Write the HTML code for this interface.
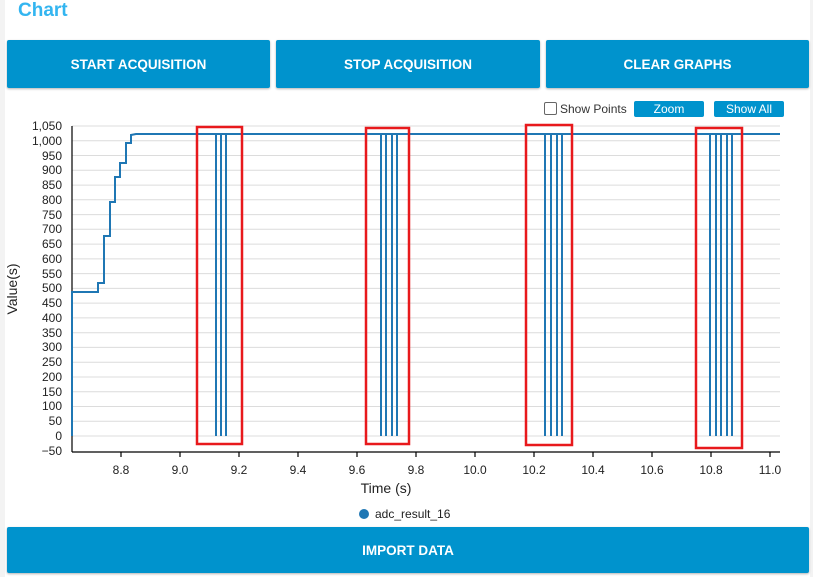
<!DOCTYPE html>
<html><head><meta charset="utf-8"><style>
body{margin:0;width:813px;height:577px;background:#fff;font-family:"Liberation Sans",sans-serif;position:relative;overflow:hidden}
.ls{position:absolute;left:0;top:0;width:5px;height:577px;background:#f3f3f3}
.rs{position:absolute;right:0;top:0;width:3px;height:577px;background:#f3f3f3}
.title{position:absolute;left:18px;top:0px;color:#33b5f0;font-size:19px;font-weight:bold;font-family:"Liberation Sans",sans-serif}
.btn{position:absolute;background:#0093cd;color:#fff;font-weight:bold;font-size:13.5px;display:flex;align-items:center;justify-content:center;border-radius:2px;box-shadow:0 1px 2px rgba(0,0,0,.3)}
.sb{position:absolute;background:#0093cd;color:#fff;font-size:12px;display:flex;align-items:center;justify-content:center;border-radius:2px;height:16px;top:101px}
</style></head><body>
<div class="ls"></div><div class="rs"></div>
<div class="title">Chart</div>
<div class="btn" style="left:7px;top:40px;width:263px;height:48px">START ACQUISITION</div>
<div class="btn" style="left:276px;top:40px;width:264px;height:48px">STOP ACQUISITION</div>
<div class="btn" style="left:546px;top:40px;width:263px;height:48px">CLEAR GRAPHS</div>
<div style="position:absolute;left:544px;top:102px;width:11px;height:11px;border:1px solid #666;border-radius:2px"></div>
<div style="position:absolute;left:560px;top:102px;font-size:12px;color:#333">Show Points</div>
<div class="sb" style="left:634px;width:70px">Zoom</div>
<div class="sb" style="left:714px;width:70px">Show All</div>
<svg width="813" height="577" style="position:absolute;left:0;top:0" font-family="Liberation Sans, sans-serif">
<g stroke="#dcdcdc" stroke-width="1">
<line x1="72" x2="780" y1="126" y2="126"/><line x1="72" x2="780" y1="140.8" y2="140.8"/><line x1="72" x2="780" y1="155.5" y2="155.5"/><line x1="72" x2="780" y1="170.3" y2="170.3"/><line x1="72" x2="780" y1="185.1" y2="185.1"/><line x1="72" x2="780" y1="199.8" y2="199.8"/><line x1="72" x2="780" y1="214.6" y2="214.6"/><line x1="72" x2="780" y1="229.3" y2="229.3"/><line x1="72" x2="780" y1="244.1" y2="244.1"/><line x1="72" x2="780" y1="258.9" y2="258.9"/><line x1="72" x2="780" y1="273.6" y2="273.6"/><line x1="72" x2="780" y1="288.4" y2="288.4"/><line x1="72" x2="780" y1="303.1" y2="303.1"/><line x1="72" x2="780" y1="317.9" y2="317.9"/><line x1="72" x2="780" y1="332.7" y2="332.7"/><line x1="72" x2="780" y1="347.4" y2="347.4"/><line x1="72" x2="780" y1="362.2" y2="362.2"/><line x1="72" x2="780" y1="377" y2="377"/><line x1="72" x2="780" y1="391.7" y2="391.7"/><line x1="72" x2="780" y1="406.5" y2="406.5"/><line x1="72" x2="780" y1="421.2" y2="421.2"/><line x1="72" x2="780" y1="436" y2="436"/>
</g>
<g font-size="12" fill="#222" text-anchor="end">
<text x="62" y="130">1,050</text><text x="62" y="145">1,000</text><text x="62" y="160">950</text><text x="62" y="174">900</text><text x="62" y="189">850</text><text x="62" y="204">800</text><text x="62" y="219">750</text><text x="62" y="233">700</text><text x="62" y="248">650</text><text x="62" y="263">600</text><text x="62" y="278">550</text><text x="62" y="292">500</text><text x="62" y="307">450</text><text x="62" y="322">400</text><text x="62" y="337">350</text><text x="62" y="351">300</text><text x="62" y="366">250</text><text x="62" y="381">200</text><text x="62" y="396">150</text><text x="62" y="410">100</text><text x="62" y="425">50</text><text x="62" y="440">0</text><text x="62" y="455">−50</text>
</g>
<g font-size="12" fill="#222" text-anchor="middle">
<text x="121" y="474">8.8</text><text x="180" y="474">9.0</text><text x="239" y="474">9.2</text><text x="298" y="474">9.4</text><text x="357" y="474">9.6</text><text x="416" y="474">9.8</text><text x="475" y="474">10.0</text><text x="534" y="474">10.2</text><text x="593" y="474">10.4</text><text x="652" y="474">10.6</text><text x="711" y="474">10.8</text><text x="770" y="474">11.0</text>
</g>
<text x="386" y="493" font-size="14" fill="#222" text-anchor="middle">Time (s)</text>
<text transform="translate(17,289) rotate(-90)" font-size="14" fill="#222" text-anchor="middle">Value(s)</text>
<g stroke="#000" stroke-width="1.2">
<line x1="72" y1="126" x2="72" y2="452"/><line x1="72" y1="452" x2="780" y2="452"/>
<line x1="121" y1="452" x2="121" y2="457"/><line x1="180" y1="452" x2="180" y2="457"/><line x1="239" y1="452" x2="239" y2="457"/><line x1="298" y1="452" x2="298" y2="457"/><line x1="357" y1="452" x2="357" y2="457"/><line x1="416" y1="452" x2="416" y2="457"/><line x1="475" y1="452" x2="475" y2="457"/><line x1="534" y1="452" x2="534" y2="457"/><line x1="593" y1="452" x2="593" y2="457"/><line x1="652" y1="452" x2="652" y2="457"/><line x1="711" y1="452" x2="711" y2="457"/><line x1="770" y1="452" x2="770" y2="457"/>
</g>
<g fill="none" stroke="#1f77b4" stroke-width="2">
<polyline points="72,436 72,292 98,292 98,283 104,283 104,236 110,236 110,202 115,202 115,177 120,177 120,163 126,163 126,143 131,143 131,135 136,134 780,134"/>
<path d="M216,134V436M221,134V436M226,134V436M381,134V436M386,134V436M392,134V436M397,134V436M545,134V436M551,134V436M557,134V436M562,134V436M710,134V436M716,134V436M721,134V436M727,134V436M732,134V436"/>
</g>
<g fill="none" stroke="#e8191c" stroke-width="2.5">
<rect x="197" y="127" width="45" height="317"/><rect x="366" y="128" width="43" height="316"/><rect x="526" y="125" width="46" height="320"/><rect x="696" y="128" width="46" height="320"/>
</g>
<circle cx="364" cy="514" r="5" fill="#1f77b4"/>
<text x="375" y="518" font-size="12" fill="#222">adc_result_16</text>
</svg>
<div class="btn" style="left:7px;top:527px;width:802px;height:46px">IMPORT DATA</div>
</body></html>
